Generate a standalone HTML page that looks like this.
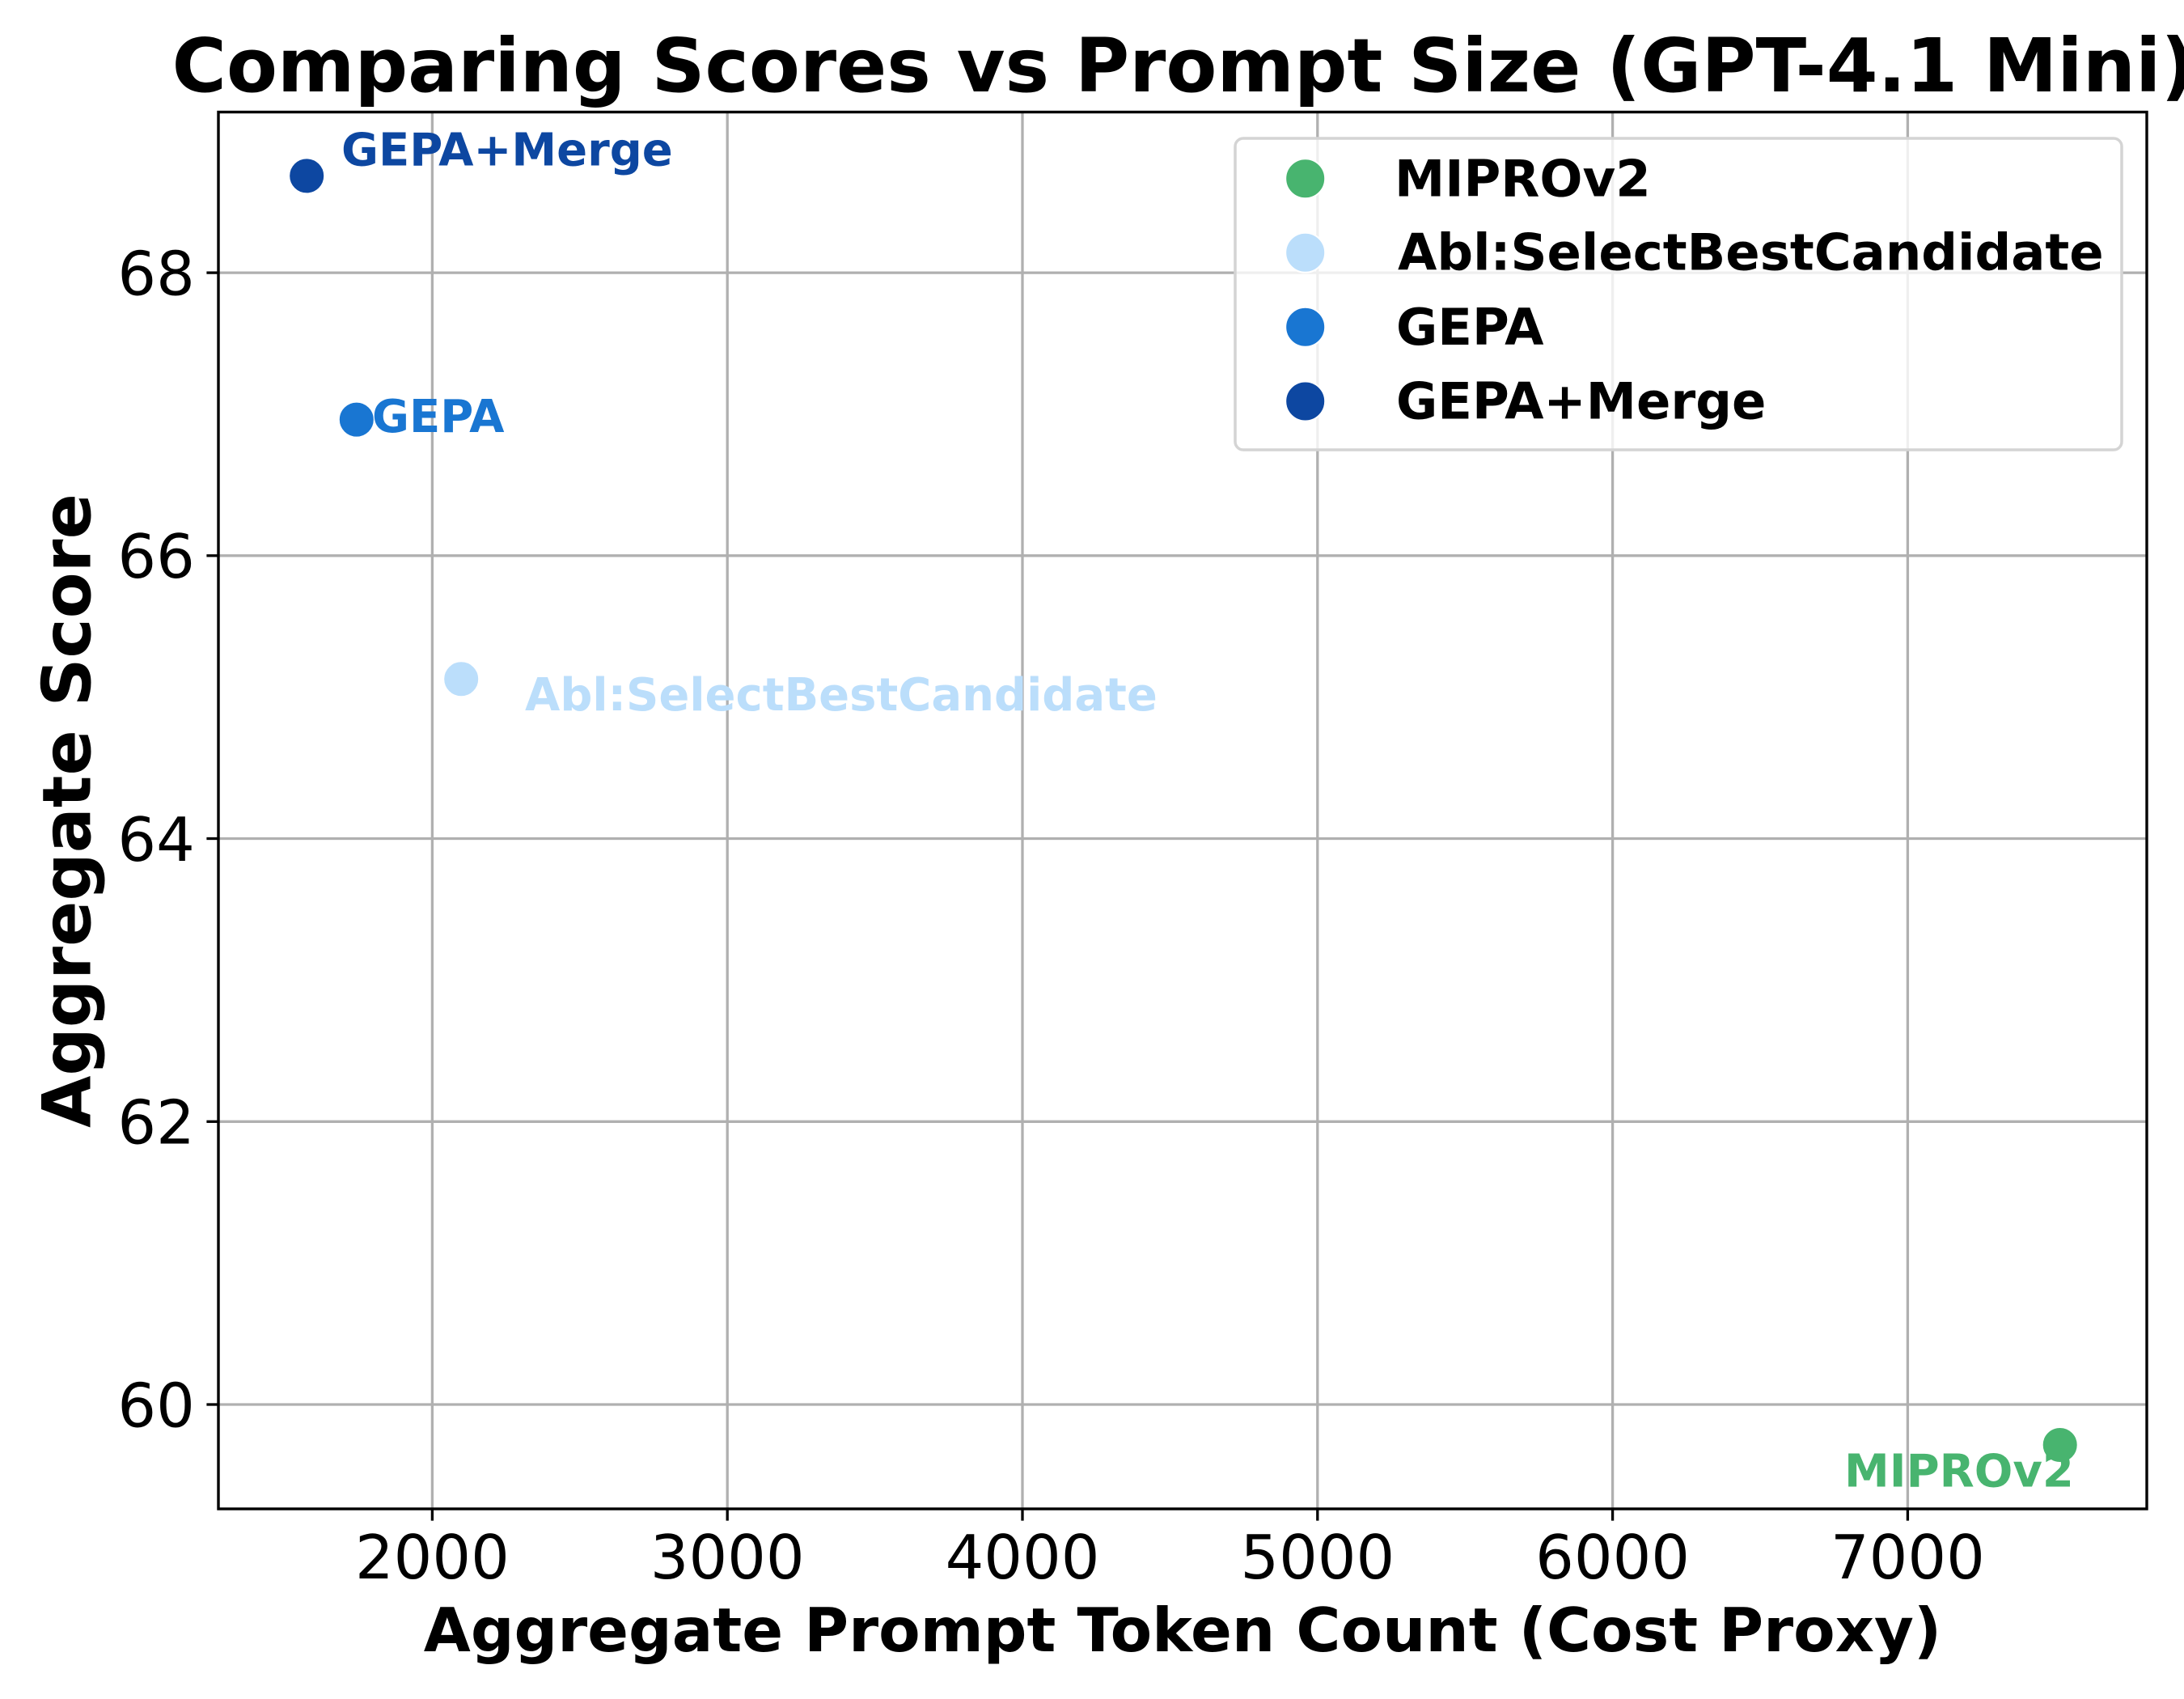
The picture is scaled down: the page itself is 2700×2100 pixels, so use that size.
<!DOCTYPE html>
<html>
<head>
<meta charset="utf-8">
<style>
  html, body { margin: 0; padding: 0; background: #ffffff; }
  svg { display: block; }
  text { font-family: "DejaVu Sans", "Liberation Sans", sans-serif; }
</style>
</head>
<body>
<svg width="2700" height="2100" viewBox="0 0 2700 2100" xmlns="http://www.w3.org/2000/svg">
  <rect x="0" y="0" width="2700" height="2100" fill="#ffffff"/>

  <!-- Title -->
  <text x="1463" y="113" font-size="91.7" font-weight="bold" text-anchor="middle" fill="#000">Comparing Scores vs Prompt Size (GPT-4.1 Mini)</text>

  <!-- Gridlines -->
  <g stroke="#b0b0b0" stroke-width="3.3">
    <line x1="534.4" y1="138.5" x2="534.4" y2="1865"/>
    <line x1="899.2" y1="138.5" x2="899.2" y2="1865"/>
    <line x1="1264.0" y1="138.5" x2="1264.0" y2="1865"/>
    <line x1="1628.8" y1="138.5" x2="1628.8" y2="1865"/>
    <line x1="1993.6" y1="138.5" x2="1993.6" y2="1865"/>
    <line x1="2358.4" y1="138.5" x2="2358.4" y2="1865"/>
    <line x1="270" y1="337.1" x2="2654" y2="337.1"/>
    <line x1="270" y1="686.8" x2="2654" y2="686.8"/>
    <line x1="270" y1="1036.5" x2="2654" y2="1036.5"/>
    <line x1="270" y1="1386.3" x2="2654" y2="1386.3"/>
    <line x1="270" y1="1736" x2="2654" y2="1736"/>
  </g>

  <!-- Points -->
  <g stroke="#ffffff" stroke-width="2">
    <circle cx="2546.7" cy="1786" r="22" fill="#48b46f"/>
    <circle cx="570.2" cy="839.3" r="22" fill="#bbdefb"/>
    <circle cx="440.8" cy="518.6" r="22" fill="#1976d2"/>
    <circle cx="379.2" cy="217.4" r="22" fill="#0d47a1"/>
  </g>

  <!-- Point annotations -->
  <g font-size="56" font-weight="bold">
    <text x="422" y="204.7" fill="#0d47a1">GEPA+Merge</text>
    <text x="460" y="533.9" fill="#1976d2">GEPA</text>
    <text x="649" y="878" fill="#bbdefb">Abl:SelectBestCandidate</text>
    <text x="2280" y="1837.3" fill="#48b46f">MIPROv2</text>
  </g>

  <!-- Axes spines -->
  <rect x="270" y="138.5" width="2384" height="1726.5" fill="none" stroke="#000" stroke-width="3.4"/>

  <!-- X ticks -->
  <g stroke="#000" stroke-width="3.3">
    <line x1="534.4" y1="1865" x2="534.4" y2="1879.6"/>
    <line x1="899.2" y1="1865" x2="899.2" y2="1879.6"/>
    <line x1="1264.0" y1="1865" x2="1264.0" y2="1879.6"/>
    <line x1="1628.8" y1="1865" x2="1628.8" y2="1879.6"/>
    <line x1="1993.6" y1="1865" x2="1993.6" y2="1879.6"/>
    <line x1="2358.4" y1="1865" x2="2358.4" y2="1879.6"/>
    <line x1="255.4" y1="337.1" x2="270" y2="337.1"/>
    <line x1="255.4" y1="686.8" x2="270" y2="686.8"/>
    <line x1="255.4" y1="1036.5" x2="270" y2="1036.5"/>
    <line x1="255.4" y1="1386.3" x2="270" y2="1386.3"/>
    <line x1="255.4" y1="1736" x2="270" y2="1736"/>
  </g>

  <!-- X tick labels -->
  <g font-size="75" text-anchor="middle" fill="#000">
    <text x="534.4" y="1951">2000</text>
    <text x="899.2" y="1951">3000</text>
    <text x="1264.0" y="1951">4000</text>
    <text x="1628.8" y="1951">5000</text>
    <text x="1993.6" y="1951">6000</text>
    <text x="2358.4" y="1951">7000</text>
  </g>

  <!-- Y tick labels -->
  <g font-size="75" text-anchor="end" fill="#000">
    <text x="240.8" y="364.4">68</text>
    <text x="240.8" y="714.1">66</text>
    <text x="240.8" y="1063.8">64</text>
    <text x="240.8" y="1413.6">62</text>
    <text x="240.8" y="1763.3">60</text>
  </g>

  <!-- Axis labels -->
  <text x="1462" y="2041" font-size="75" font-weight="bold" text-anchor="middle" fill="#000">Aggregate Prompt Token Count (Cost Proxy)</text>
  <text transform="translate(111.7,1002) rotate(-90)" x="0" y="0" font-size="83" font-weight="bold" text-anchor="middle" fill="#000">Aggregate Score</text>

  <!-- Legend -->
  <rect x="1527" y="171" width="1096" height="385" rx="10" ry="10" fill="#ffffff" fill-opacity="0.8" stroke="#d4d4d4" stroke-width="3.5"/>
  <g stroke="#ffffff" stroke-width="2">
    <circle cx="1613.7" cy="220.7" r="24.5" fill="#48b46f"/>
    <circle cx="1613.7" cy="312.3" r="24.5" fill="#bbdefb"/>
    <circle cx="1613.7" cy="404.2" r="24.5" fill="#1976d2"/>
    <circle cx="1613.7" cy="496" r="24.5" fill="#0d47a1"/>
  </g>
  <g font-size="62.5" font-weight="bold" fill="#000">
    <text x="1724" y="242.5">MIPROv2</text>
    <text x="1728" y="333.5">Abl:SelectBestCandidate</text>
    <text x="1726" y="425.8">GEPA</text>
    <text x="1726" y="517.6">GEPA+Merge</text>
  </g>
</svg>
</body>
</html>
